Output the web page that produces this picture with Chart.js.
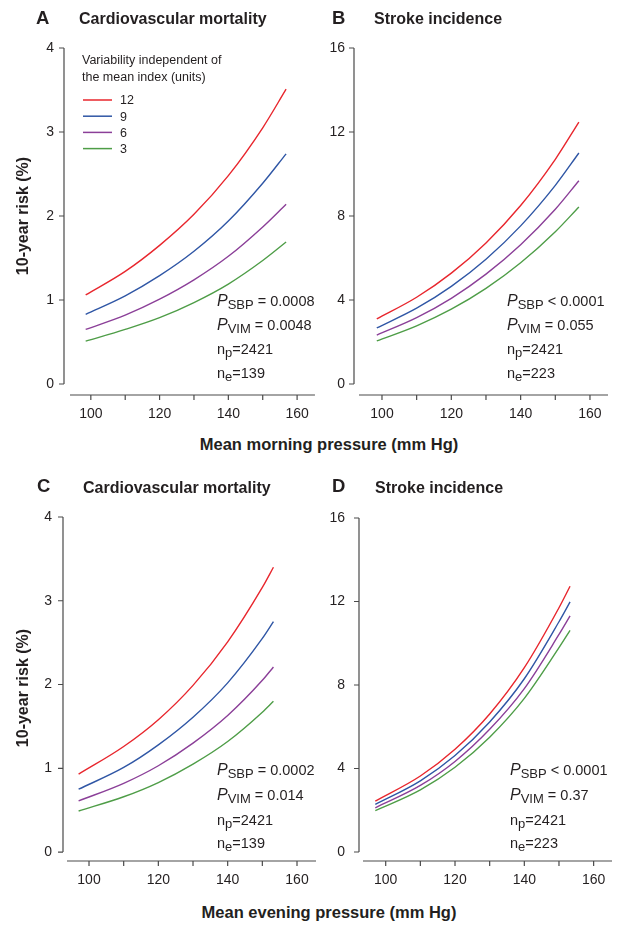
<!DOCTYPE html>
<html>
<head>
<meta charset="utf-8">
<title>10-year risk by home blood pressure and variability</title>
<script src="https://cdn.jsdelivr.net/npm/chart.js@4.4.1/dist/chart.umd.min.js"></script>
<style>
  body { margin: 0; width: 629px; height: 929px; position: relative; overflow: hidden; background: #fff;
         font-family: "Liberation Sans", Arial, Helvetica, sans-serif; color: #231f20; }
  canvas { position: absolute; }
  .t { position: absolute; white-space: nowrap; line-height: 1; }
  .letter { font-size: 18.5px; font-weight: bold; }
  .title { font-size: 16px; font-weight: bold; }
  .ytitle { font-size: 16px; font-weight: bold; transform: translate(-50%, -50%) rotate(-90deg); }
  .xtitle { font-size: 16.5px; font-weight: bold; transform: translateX(-50%); }
  .ann { position: absolute; white-space: nowrap; font-size: 14.5px; line-height: 24px; }
  .ann i { font-size: 16px; }
  .ann .s { font-size: 13px; position: relative; top: 3px; }
</style>
</head>
<body>

<canvas id="chartA" width="320" height="430" style="left:0;top:0"></canvas>
<canvas id="chartB" width="339" height="430" style="left:290px;top:0"></canvas>
<canvas id="chartC" width="320" height="440" style="left:0;top:460px"></canvas>
<canvas id="chartD" width="339" height="440" style="left:290px;top:460px"></canvas>

<div class="t letter" style="left:36px;top:9px">A</div>
<div class="t title" style="left:79px;top:10.5px">Cardiovascular mortality</div>
<div class="t letter" style="left:332px;top:9px">B</div>
<div class="t title" style="left:374px;top:10.5px">Stroke incidence</div>
<div class="t letter" style="left:37px;top:477px">C</div>
<div class="t title" style="left:83px;top:479.5px">Cardiovascular mortality</div>
<div class="t letter" style="left:332px;top:477px">D</div>
<div class="t title" style="left:375px;top:479.5px">Stroke incidence</div>

<div class="t ytitle" style="left:23px;top:216px">10-year risk (%)</div>
<div class="t ytitle" style="left:23px;top:688px">10-year risk (%)</div>
<div class="t xtitle" style="left:329px;top:436px">Mean morning pressure (mm Hg)</div>
<div class="t xtitle" style="left:329px;top:904px">Mean evening pressure (mm Hg)</div>

<div class="ann" style="left:217px;top:289px"><i>P</i><span class="s">SBP</span> = 0.0008</div>
<div class="ann" style="left:217px;top:313px"><i>P</i><span class="s">VIM</span> = 0.0048</div>
<div class="ann" style="left:217px;top:337px">n<span class="s">p</span>=2421</div>
<div class="ann" style="left:217px;top:361px">n<span class="s">e</span>=139</div>

<div class="ann" style="left:507px;top:289px"><i>P</i><span class="s">SBP</span> &lt; 0.0001</div>
<div class="ann" style="left:507px;top:313px"><i>P</i><span class="s">VIM</span> = 0.055</div>
<div class="ann" style="left:507px;top:337px">n<span class="s">p</span>=2421</div>
<div class="ann" style="left:507px;top:361px">n<span class="s">e</span>=223</div>

<div class="ann" style="left:217px;top:758px"><i>P</i><span class="s">SBP</span> = 0.0002</div>
<div class="ann" style="left:217px;top:783px"><i>P</i><span class="s">VIM</span> = 0.014</div>
<div class="ann" style="left:217px;top:808px">n<span class="s">p</span>=2421</div>
<div class="ann" style="left:217px;top:831px">n<span class="s">e</span>=139</div>

<div class="ann" style="left:510px;top:758px"><i>P</i><span class="s">SBP</span> &lt; 0.0001</div>
<div class="ann" style="left:510px;top:783px"><i>P</i><span class="s">VIM</span> = 0.37</div>
<div class="ann" style="left:510px;top:808px">n<span class="s">p</span>=2421</div>
<div class="ann" style="left:510px;top:831px">n<span class="s">e</span>=223</div>

<script>
// pressure values (mm Hg) where the curves are read
const morningPressure = [98.5, 110, 120, 130, 140, 150, 156.8];
const eveningPressure = [97, 110, 120, 130, 140, 150, 153.2];

// variability independent of the mean (units), legend order
const variabilityLevels = ['12', '9', '6', '3'];
const legendTitle = ['Variability independent of', 'the mean index (units)'];

// 10-year risk (%), one row per variability level (12, 9, 6, 3)
const cvMorning = [
  [1.06, 1.34, 1.65, 2.02, 2.48, 3.05, 3.51],
  [0.83, 1.05, 1.29, 1.58, 1.94, 2.39, 2.74],
  [0.65, 0.82, 1.01, 1.24, 1.52, 1.87, 2.14],
  [0.51, 0.65, 0.79, 0.97, 1.19, 1.47, 1.69]
];
const strokeMorning = [
  [3.10, 4.13, 5.28, 6.72, 8.50, 10.70, 12.47],
  [2.67, 3.61, 4.65, 5.94, 7.53, 9.46, 11.00],
  [2.33, 3.16, 4.08, 5.23, 6.63, 8.32, 9.68],
  [2.05, 2.77, 3.56, 4.55, 5.77, 7.25, 8.43]
];
const cvEvening = [
  [0.93, 1.26, 1.58, 1.99, 2.51, 3.16, 3.40],
  [0.75, 1.01, 1.28, 1.61, 2.02, 2.55, 2.75],
  [0.61, 0.82, 1.03, 1.30, 1.63, 2.05, 2.21],
  [0.49, 0.66, 0.83, 1.05, 1.32, 1.67, 1.80]
];
const strokeEvening = [
  [2.44, 3.64, 4.92, 6.61, 8.83, 11.70, 12.73],
  [2.28, 3.41, 4.62, 6.23, 8.30, 11.03, 11.98],
  [2.12, 3.19, 4.34, 5.88, 7.83, 10.42, 11.31],
  [1.98, 2.98, 4.06, 5.50, 7.36, 9.79, 10.62]
];

// tick labels
const xTickValues = [100, 110, 120, 130, 140, 150, 160];
const xTickLabels = [100, 120, 140, 160];
const cvTicks = [0, 1, 2, 3, 4];
const strokeTicks = [0, 4, 8, 12, 16];

const seriesColors = ['#e8262d', '#2f56a5', '#8b3f98', '#4e9d47'];
const axisColor = '#4a4a4a';
const textColor = '#231f20';
const fontFamily = '"Liberation Sans", Arial, Helvetica, sans-serif';

// R-style detached axes: y line stops at the last tick, x line sits below zero
const rAxes = {
  id: 'rAxes',
  afterDraw(chart, args, opts) {
    const { ctx, chartArea: a, scales: { x, y } } = chart;
    const yTicks = opts.yTicks;
    ctx.save();
    ctx.strokeStyle = axisColor;
    ctx.lineWidth = 1.2;
    ctx.beginPath();
    const yx = opts.yLineX;
    ctx.moveTo(yx, y.getPixelForValue(yTicks[yTicks.length - 1]));
    ctx.lineTo(yx, y.getPixelForValue(yTicks[0]));
    yTicks.forEach(v => {
      const p = y.getPixelForValue(v);
      ctx.moveTo(yx - 5, p);
      ctx.lineTo(yx, p);
    });
    ctx.moveTo(a.left, a.bottom);
    ctx.lineTo(a.right, a.bottom);
    xTickValues.forEach(v => {
      const p = x.getPixelForValue(v);
      ctx.moveTo(p, a.bottom);
      ctx.lineTo(p, a.bottom + 5);
    });
    ctx.stroke();
    ctx.restore();
  }
};

// legend drawn inside panel A only
const varLegend = {
  id: 'varLegend',
  afterDraw(chart, args, opts) {
    if (!opts.show) return;
    const ctx = chart.ctx;
    ctx.save();
    ctx.fillStyle = textColor;
    ctx.font = '12.5px ' + fontFamily;
    ctx.textBaseline = 'alphabetic';
    legendTitle.forEach((t, i) => ctx.fillText(t, 82, 63.5 + i * 17.5));
    ctx.textBaseline = 'middle';
    chart.data.datasets.forEach((ds, i) => {
      const ly = 100 + i * 16.2;
      ctx.strokeStyle = ds.borderColor;
      ctx.lineWidth = 1.5;
      ctx.beginPath();
      ctx.moveTo(83, ly);
      ctx.lineTo(112, ly);
      ctx.stroke();
      ctx.fillText(ds.label, 120, ly + 1);
    });
    ctx.restore();
  }
};

function makeChart(id, p, xs, series, yTicks, showLegend) {
  const datasets = series.map((vals, i) => ({
    label: variabilityLevels[i],
    data: xs.map((x, j) => ({ x: x, y: vals[j] })),
    borderColor: seriesColors[i],
    borderWidth: 1.4,
    pointRadius: 0,
    fill: false,
    cubicInterpolationMode: 'monotone'
  }));
  return new Chart(document.getElementById(id), {
    type: 'line',
    data: { datasets: datasets },
    plugins: [rAxes, varLegend],
    options: {
      responsive: false,
      animation: false,
      events: [],
      layout: { padding: { top: p.top, right: p.right, left: 0, bottom: 0 } },
      plugins: {
        legend: { display: false },
        tooltip: { enabled: false },
        rAxes: { yLineX: p.yLineX, yTicks: yTicks },
        varLegend: { show: showLegend }
      },
      scales: {
        x: {
          type: 'linear',
          min: p.xMin,
          max: p.xMax,
          grid: { display: false, drawTicks: false },
          border: { display: false },
          afterBuildTicks: s => { s.ticks = xTickValues.map(v => ({ value: v })); },
          afterFit: s => { s.height = p.xh; },
          ticks: {
            autoSkip: false,
            maxRotation: 0,
            padding: 11,
            color: textColor,
            font: { family: fontFamily, size: 14 },
            callback: v => xTickLabels.includes(v) ? String(v) : ''
          }
        },
        y: {
          type: 'linear',
          min: p.yMin,
          max: yTicks[yTicks.length - 1],
          grid: { display: false, drawTicks: false },
          border: { display: false },
          afterBuildTicks: s => { s.ticks = yTicks.map(v => ({ value: v })); },
          afterFit: s => { s.width = p.yw; },
          ticks: {
            padding: p.labelPad,
            color: textColor,
            font: { family: fontFamily, size: 14 },
            callback: v => String(v)
          }
        }
      }
    }
  });
}

makeChart('chartA', { top: 48, right: 3, xh: 35, yw: 70, yLineX: 64, labelPad: 16,
  xMin: 93.94, xMax: 165.19, yMin: -0.131 }, morningPressure, cvMorning, cvTicks, true);
makeChart('chartB', { top: 48, right: 21, xh: 35, yw: 69, yLineX: 64, labelPad: 14,
  xMin: 93.37, xMax: 165.2, yMin: -0.524 }, morningPressure, strokeMorning, strokeTicks, false);
makeChart('chartC', { top: 57, right: 4, xh: 39, yw: 67, yLineX: 63, labelPad: 15,
  xMin: 93.65, xMax: 165.48, yMin: -0.107 }, eveningPressure, cvEvening, cvTicks, false);
makeChart('chartD', { top: 58, right: 17, xh: 39, yw: 73, yLineX: 69, labelPad: 18,
  xMin: 93.45, xMax: 165.3, yMin: -0.43 }, eveningPressure, strokeEvening, strokeTicks, false);
</script>
</body>
</html>
